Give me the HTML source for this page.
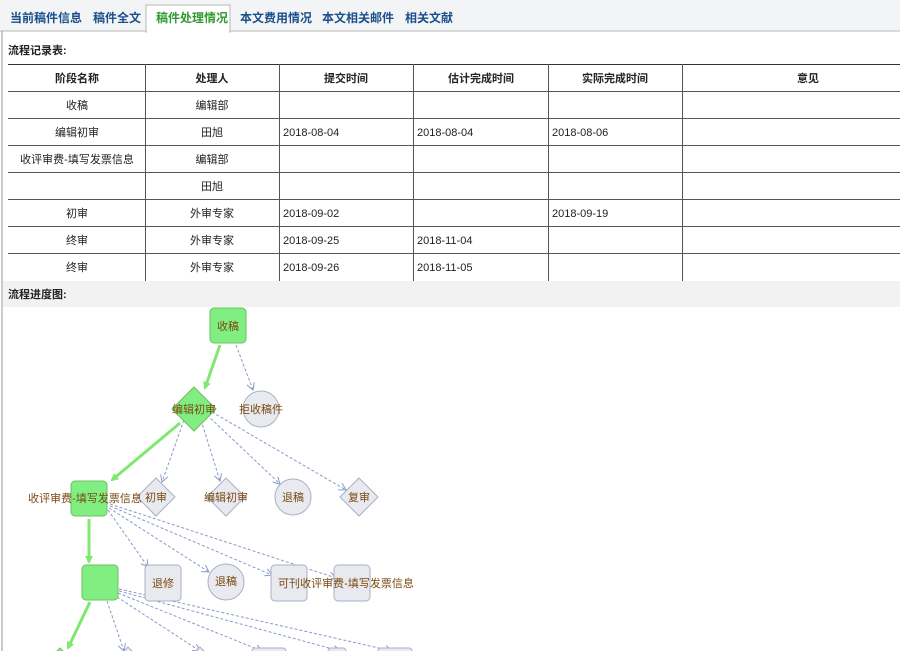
<!DOCTYPE html>
<html><head><meta charset="utf-8"><style>
html,body{margin:0;padding:0;width:900px;height:651px;overflow:hidden;background:#fff}
svg{display:block}
text{font-family:"Liberation Sans","Noto Sans CJK SC",sans-serif}
</style></head><body>
<svg width="900" height="651" viewBox="0 0 900 651" xmlns="http://www.w3.org/2000/svg">
<defs>
<marker id="ga" markerWidth="8" markerHeight="8" refX="6" refY="4" orient="auto" markerUnits="userSpaceOnUse"><path d="M0,0 L8,4 L0,8 z" fill="#80e870"/></marker>
<marker id="ba" markerWidth="8" markerHeight="8" refX="7" refY="4" orient="auto" markerUnits="userSpaceOnUse"><path d="M0,0 L7,4 L0,8" fill="none" stroke="#8a9ac8" stroke-width="1"/></marker>
</defs>
<!-- tab bar -->
<rect x="0" y="0" width="900" height="31" fill="#f3f4f6"/>
<line x1="0" y1="31" x2="900" y2="31" stroke="#b8b8b8"/>
<rect x="146" y="5" width="84" height="27" fill="#fff" stroke="#b8b8b8"/>
<rect x="147" y="30" width="82" height="3" fill="#fff"/>
<g font-size="12" font-weight="bold" fill="#1a4f8a">
<text x="10" y="22">当前稿件信息</text>
<text x="93" y="22">稿件全文</text>
<text x="156" y="22" fill="#2e9a2e">稿件处理情况</text>
<text x="240" y="22">本文费用情况</text>
<text x="322" y="22">本文相关邮件</text>
<text x="405" y="22">相关文献</text>
</g>
<line x1="2" y1="31" x2="2" y2="651" stroke="#999"/>
<text x="8" y="54" font-size="11" font-weight="bold" fill="#222">流程记录表:</text>
<!-- table -->
<g stroke="#555" stroke-width="1">
<line x1="8" y1="64.5" x2="900" y2="64.5" stroke="#333"/>
<line x1="8" y1="91.5" x2="900" y2="91.5"/>
<line x1="8" y1="118.5" x2="900" y2="118.5"/>
<line x1="8" y1="145.5" x2="900" y2="145.5"/>
<line x1="8" y1="172.5" x2="900" y2="172.5"/>
<line x1="8" y1="199.5" x2="900" y2="199.5"/>
<line x1="8" y1="226.5" x2="900" y2="226.5"/>
<line x1="8" y1="253.5" x2="900" y2="253.5"/>
<line x1="145.5" y1="64" x2="145.5" y2="281"/>
<line x1="279.5" y1="64" x2="279.5" y2="281"/>
<line x1="413.5" y1="64" x2="413.5" y2="281"/>
<line x1="548.5" y1="64" x2="548.5" y2="281"/>
<line x1="682.5" y1="64" x2="682.5" y2="281"/>
</g>
<g font-size="11" fill="#222" text-anchor="middle">
<g font-weight="bold">
<text x="77" y="82">阶段名称</text><text x="212" y="82">处理人</text><text x="346" y="82">提交时间</text>
<text x="481" y="82">估计完成时间</text><text x="615" y="82">实际完成时间</text><text x="808" y="82">意见</text>
</g>
<text x="77" y="109">收稿</text><text x="212" y="109">编辑部</text>
<text x="77" y="136">编辑初审</text><text x="212" y="136">田旭</text>
<text x="77" y="163">收评审费-填写发票信息</text><text x="212" y="163">编辑部</text>
<text x="212" y="190">田旭</text>
<text x="77" y="217">初审</text><text x="212" y="217">外审专家</text>
<text x="77" y="244">终审</text><text x="212" y="244">外审专家</text>
<text x="77" y="271">终审</text><text x="212" y="271">外审专家</text>
</g>
<g font-size="11" fill="#222">
<text x="283" y="136">2018-08-04</text><text x="417" y="136">2018-08-04</text><text x="552" y="136">2018-08-06</text>
<text x="283" y="217">2018-09-02</text><text x="552" y="217">2018-09-19</text>
<text x="283" y="244">2018-09-25</text><text x="417" y="244">2018-11-04</text>
<text x="283" y="271">2018-09-26</text><text x="417" y="271">2018-11-05</text>
</g>
<rect x="3" y="281" width="897" height="26" fill="#f2f2f2"/>
<text x="8" y="298" font-size="11" font-weight="bold" fill="#222">流程进度图:</text>
<!-- dashed connectors -->
<g stroke="#8a9ac8" stroke-width="1" stroke-dasharray="3,2" fill="none" marker-end="url(#ba)">
<line x1="236" y1="345" x2="253" y2="390"/>
<line x1="184" y1="420" x2="162" y2="482"/>
<line x1="201" y1="420" x2="220" y2="481"/>
<line x1="207" y1="415" x2="280" y2="484"/>
<line x1="212" y1="412" x2="346" y2="490"/>
<line x1="108" y1="510" x2="148" y2="567"/>
<line x1="109" y1="508" x2="209" y2="572"/>
<line x1="110" y1="506" x2="272" y2="575"/>
<line x1="110" y1="504" x2="336" y2="578"/>
<line x1="107" y1="601" x2="124" y2="651"/>
<line x1="117" y1="597" x2="200" y2="651"/>
<line x1="118" y1="593" x2="262" y2="651"/>
<line x1="119" y1="591" x2="340" y2="651"/>
<line x1="119" y1="589" x2="392" y2="651"/>
</g>
<!-- green connectors -->
<g stroke="#80e870" stroke-width="3" fill="none" marker-end="url(#ga)">
<line x1="220" y1="345" x2="205" y2="388"/>
<line x1="180" y1="423" x2="112" y2="480"/>
<line x1="89" y1="519" x2="89" y2="562"/>
<line x1="90" y1="602" x2="68" y2="648"/>
</g>
<!-- nodes -->
<g stroke="#6cc060" stroke-width="1" fill="#80ee80">
<rect x="210" y="308" width="36" height="35" rx="4"/>
<path d="M194,387 L216,409 L194,431 L172,409 z"/>
<rect x="71" y="481" width="36" height="35" rx="4"/>
<rect x="82" y="565" width="36" height="35" rx="4"/>
<path d="M60,648 L72,660 L48,660 z"/>
</g>
<g stroke="#a8b0c8" stroke-width="1" fill="#e8eaf0">
<circle cx="261" cy="409" r="18"/>
<path d="M156,478 L175,497 L156,516 L137,497 z"/>
<path d="M226,478 L245,497 L226,516 L207,497 z"/>
<circle cx="293" cy="497" r="18"/>
<path d="M359,478 L378,497 L359,516 L340,497 z"/>
<rect x="145" y="565" width="36" height="36" rx="4"/>
<circle cx="226" cy="582" r="18"/>
<rect x="271" y="565" width="36" height="36" rx="4"/>
<rect x="334" y="565" width="36" height="36" rx="4"/>
<path d="M128,647 L135,654 L121,654 z"/>
<path d="M200,647 L207,654 L193,654 z"/>
<rect x="252" y="648" width="34" height="10" rx="3"/>
<rect x="328" y="648" width="18" height="10" rx="3"/>
<rect x="378" y="648" width="34" height="10" rx="3"/>
</g>
<g font-size="11" fill="#7a4a10" text-anchor="middle">
<text x="228" y="330">收稿</text>
<text x="194" y="413">编辑初审</text>
<text x="261" y="413">拒收稿件</text>
<text x="85" y="502">收评审费-填写发票信息</text>
<text x="156" y="501">初审</text>
<text x="226" y="501">编辑初审</text>
<text x="293" y="501">退稿</text>
<text x="359" y="501">复审</text>
<text x="163" y="587">退修</text>
<text x="226" y="585">退稿</text>
<text x="289" y="587">可刊</text>
<text x="357" y="587">收评审费-填写发票信息</text>
</g>
</svg>
</body></html>
